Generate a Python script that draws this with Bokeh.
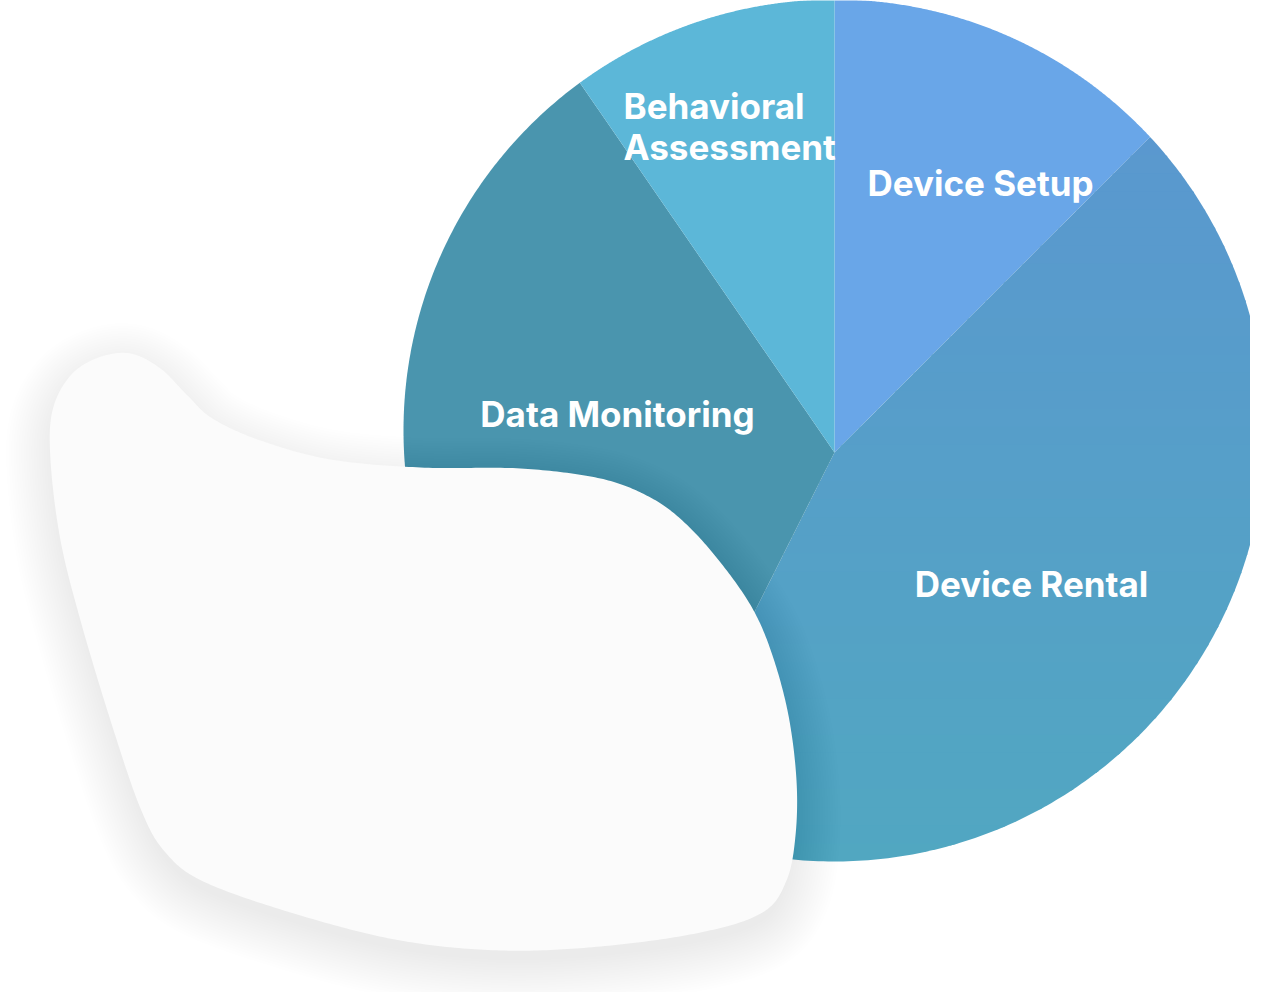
import numpy as np
from bokeh.plotting import figure
from bokeh.models import Range1d, ColumnDataSource
from bokeh.core.properties import value
from bokeh.embed import file_html
from bokeh.resources import INLINE

# ---------------- data ----------------
categories = ["Device Setup", "Device Rental", "Data Monitoring", "Behavioral Assessment"]
shares = [12.5, 44.9, 33.0, 9.6]
label_text = ["Device Setup", "Device Rental", "Data Monitoring", "Behavioral\nAssessment"]

# ---------------- style / layout ----------------
slice_colors = ["#69A6E8", "#5A9ACE", "#4A95AE", "#5CB7D8"]
rental_top, rental_bottom = (90, 152, 207), (81, 167, 193)
CX, CY, R = 834.0, 430.0, 431.0      # circle of the pie (screen px)
VX, VY = 834.0, 452.0                # common vertex of the slices
label_x = [980, 1031, 617, 623]
label_y = [182, 583, 413, 126]
label_align = ["center", "center", "center", "left"]

blob_ctrl = [(130, 353), (160, 368), (187, 395), (212, 418), (260, 440), (330, 459),
             (420, 467), (520, 468), (600, 478), (650, 497), (685, 523), (720, 562),
             (752, 608), (772, 655), (788, 715), (796, 780), (795, 835), (786, 880),
             (762, 912), (700, 932), (600, 946), (500, 950), (400, 940), (300, 915),
             (205, 882), (165, 852), (140, 808), (110, 720), (80, 620), (60, 540),
             (50, 460), (52, 410), (70, 375), (98, 357)]


def ray_circle(theta):
    d = np.array([np.sin(theta), -np.cos(theta)])
    w = np.array([VX - CX, VY - CY])
    b = w @ d
    t = -b + np.sqrt(b * b - (w @ w) + R * R)
    return VX + t * d[0], VY + t * d[1]


def circ_angle(px, py):
    return np.arctan2(px - CX, -(py - CY))


def slice_polygon(a0, a1):
    p0 = ray_circle(a0)
    p1 = ray_circle(a1)
    s = circ_angle(*p0)
    e = circ_angle(*p1)
    while e <= s:
        e += 2 * np.pi
    ang = np.linspace(s, e, 240)
    xs = [VX] + list(CX + R * np.sin(ang))
    ys = [VY] + list(CY - R * np.cos(ang))
    return xs, ys


def clip_half(poly, y0, keep_above):
    out = []
    n = len(poly)
    for i in range(n):
        cur, nxt = poly[i], poly[(i + 1) % n]
        inc = cur[1] >= y0 if keep_above else cur[1] <= y0
        inn = nxt[1] >= y0 if keep_above else nxt[1] <= y0
        if inc:
            out.append(cur)
        if inc != inn:
            t = (y0 - cur[1]) / (nxt[1] - cur[1])
            out.append((cur[0] + t * (nxt[0] - cur[0]), y0))
    return out


def catmull(points, n=24):
    pts = np.array(points, float)
    N = len(pts)
    out = []
    for i in range(N):
        p0, p1, p2, p3 = pts[(i - 1) % N], pts[i], pts[(i + 1) % N], pts[(i + 2) % N]
        for t in np.linspace(0, 1, n, endpoint=False):
            t2, t3 = t * t, t * t * t
            out.append(0.5 * ((2 * p1) + (-p0 + p2) * t + (2 * p0 - 5 * p1 + 4 * p2 - p3) * t2
                              + (-p0 + 3 * p1 - 3 * p2 + p3) * t3))
    return np.array(out)


p = figure(width=1250, height=992, x_range=Range1d(0, 1250), y_range=Range1d(992, 0),
           output_backend="svg", toolbar_location=None, min_border=0)
p.axis.visible = False
p.grid.visible = False
p.outline_line_color = None
p.background_fill_color = "white"
p.border_fill_color = "white"

# ---------------- pie slices ----------------
total = float(sum(shares))
cum = np.cumsum([0] + shares) / total * 2 * np.pi
sx, sy, sc = [], [], []
for i, cat in enumerate(categories):
    xs, ys = slice_polygon(cum[i], cum[i + 1])
    if cat == "Device Rental":
        poly = list(zip(xs, ys))
        ymin, ymax = min(ys), max(ys)
        nb = 40
        edges = np.linspace(ymin, ymax, nb + 1)
        for k in range(nb):
            lo = edges[k]
            hi = min(edges[k + 1] + 2.0, ymax)
            band = clip_half(clip_half(poly, lo, True), hi, False)
            if len(band) < 3:
                continue
            f = (k + 0.5) / nb
            c = tuple(int(round(rental_top[j] + f * (rental_bottom[j] - rental_top[j]))) for j in range(3))
            col = "#%02x%02x%02x" % c
            sx.append([q[0] for q in band]); sy.append([q[1] for q in band]); sc.append(col)
    else:
        sx.append(xs); sy.append(ys); sc.append(slice_colors[i])

p.patches("xs", "ys", source=ColumnDataSource(dict(xs=sx, ys=sy, c=sc)),
          fill_color="c", line_color=None)

# ---------------- decorative blob with shadow ----------------
blob = catmull(blob_ctrl)
area = 0.5 * np.sum(blob[:, 0] * np.roll(blob[:, 1], -1) - np.roll(blob[:, 0], -1) * blob[:, 1])
tang = np.roll(blob, -1, axis=0) - np.roll(blob, 1, axis=0)
nrm = np.stack([tang[:, 1], -tang[:, 0]], axis=1)
nrm /= np.linalg.norm(nrm, axis=1, keepdims=True)
if area < 0:
    nrm = -nrm
hx, hy = [], []
for d in np.linspace(-4, 44, 20):
    q = blob + nrm * d
    hx.append(list(q[:, 0])); hy.append(list(q[:, 1] + 14))
p.patches(hx, hy, fill_color="black", fill_alpha=0.0048, line_color=None)
p.patch(list(blob[:, 0]), list(blob[:, 1]), fill_color="#FBFBFB", line_color=None)

# ---------------- labels ----------------
p.text("x", "y", text="t", source=ColumnDataSource(dict(x=label_x, y=label_y, t=label_text, a=label_align)),
       text_align="a", text_baseline="middle", text_color="white",
       text_font=value("Inter"), text_font_style="bold", text_font_size="35px",
       text_line_height=0.97)

open("out.html", "w").write(file_html(p, INLINE))
